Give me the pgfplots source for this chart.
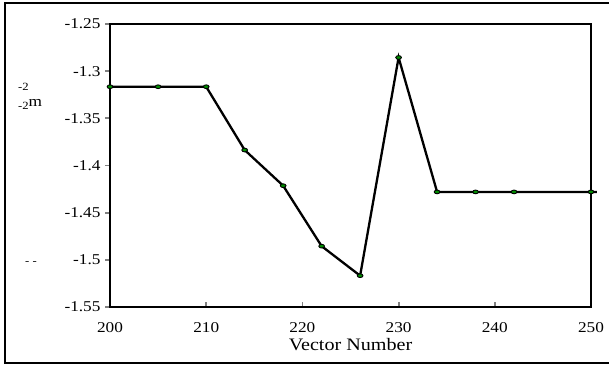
\documentclass[border=0pt]{standalone}
\usepackage{pgfplots}
\pgfplotsset{compat=1.18}
\usepackage{fontspec}
\setmainfont{Liberation Serif}[FakeStretch=1.15]
\begin{document}
\begin{tikzpicture}[x=1pt,y=1pt]
\useasboundingbox (0,0) rectangle (609,365);
\draw[line width=2.4pt] (609,362) -- (5,362) -- (5,2) -- (609,2);
\begin{axis}[
  at={(110pt,58pt)}, anchor=south west,
  scale only axis, width=481pt, height=283pt,
  xmin=200, xmax=250, ymin=-1.55, ymax=-1.25,
  clip=false,
  axis line style={line width=1.8pt},
  xtick={200,210,220,230,240,250},
  xticklabels={200,210,220,230,240,250},
  ytick={-1.55,-1.5,-1.45,-1.4,-1.35,-1.3,-1.25},
  yticklabels={-1.55,-1.5,-1.45,-1.4,-1.35,-1.3,-1.25},
  tick align=outside, major tick length=5pt,
  xtick pos=bottom, ytick pos=left,
  x tick style={line width=1.8pt, yshift=5pt},
  y tick style={line width=1.8pt},
  ticklabel style={font=\fontsize{15}{16}\selectfont},
  xticklabel style={yshift=-7pt},
  yticklabel style={xshift=-1pt},
  xlabel={Vector Number},
  xlabel style={font=\fontsize{17.5}{18}\selectfont, at={(axis description cs:0.5,0)}, anchor=center, yshift=-38pt},
]
\addplot[black, line width=2.3pt, mark=*, mark indices={1,...,12},
  mark options={draw=black, fill=green!55!black, line width=0.9pt, xscale=1.3, yscale=0.85}, mark size=2.2pt]
coordinates {
(200,-1.3165) (205,-1.3165) (210,-1.3165) (214,-1.3836) (218,-1.4214)
(222,-1.4855) (226,-1.5168) (230,-1.2855) (234,-1.428) (238,-1.428)
(242,-1.428) (250,-1.428) (250.6,-1.428)
};
\end{axis}
\node[anchor=base west, inner sep=0pt, font=\fontsize{11}{12}\selectfont] at (18,275) {-2};
\node[anchor=base west, inner sep=0pt, font=\fontsize{15}{16}\selectfont] at (18,259) {\raisebox{-3pt}{\fontsize{11}{12}\selectfont -2}m};
\node[anchor=west, inner sep=0pt, font=\fontsize{11}{12}\selectfont] at (25,102) {- -};
\end{tikzpicture}
\end{document}
